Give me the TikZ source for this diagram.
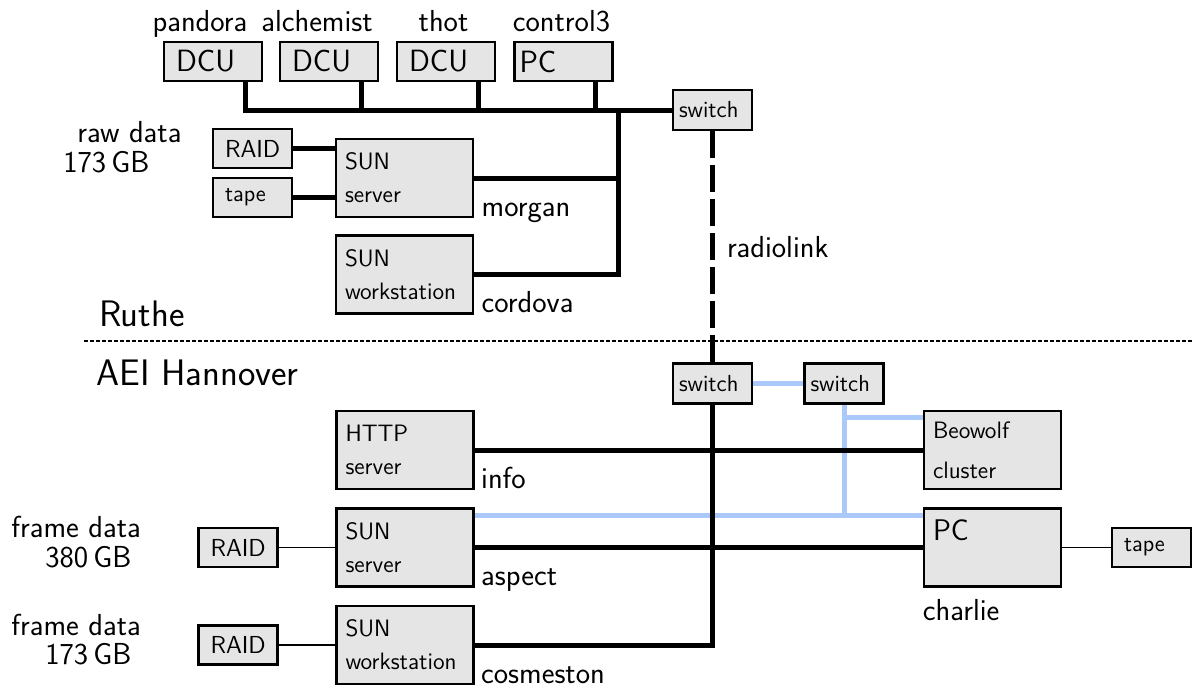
\documentclass[tikz,border=0pt]{standalone}
\usepackage{fontspec}
\renewcommand{\familydefault}{\sfdefault}

\definecolor{boxgray}{gray}{0.9}
\definecolor{lanblue}{RGB}{170,200,250}

\tikzset{
    box/.style = {draw, line width = 0.55mm, fill = boxgray, rectangle, align = left, inner ysep = 0pt},
    unit/.style = {box, text width = 14.8mm, inner xsep = 2.4mm, minimum height = 7.8mm, font = \fontsize{17.5}{21}\selectfont},
    host/.style = {box, text width = 23.8mm, inner xsep = 1.8mm, minimum height = 15.6mm, font = \fontsize{13.5}{16}\selectfont},
    store/.style = {box, text width = 11mm, inner xsep = 2.4mm, minimum height = 7.8mm, font = \fontsize{13}{15.6}\selectfont},
    hub/.style = {box, text width = 13.4mm, inner xsep = 1.2mm, minimum height = 8mm, font = \fontsize{13.2}{15.6}\selectfont},
    net/.style = {line width = 1mm},
    lan/.style = {line width = 1mm, lanblue},
    wire/.style = {line width = 0.3mm},
    radio/.style = {line width = 1mm, dash pattern = on 5.4mm off 1.4mm},
    sitesep/.style = {line width = 0.4mm, dash pattern = on 0.8mm off 0.4mm},
    lbl/.style = {inner sep = 0pt, font = \fontsize{17.3}{21}\selectfont},
    site/.style = {inner sep = 0pt, font = \fontsize{21}{25}\selectfont}
}

\begin{document}
\begin{tikzpicture}[x = 0.2mm, y = -0.2mm]
% Coordinates are in pixels of the original sketch, y grows downwards.
    \useasboundingbox (0, 0) rectangle (1194, 686);

% Ruthe: the data collecting units on the top bus.
    \node [unit] (pandora) at (213, 61.5) {DCU};
    \node [unit] (alchemist) at (329, 61.5) {DCU};
    \node [unit] (thot) at (446, 61.5) {DCU};
    \node [unit, inner xsep = 1mm, text width = 17.6mm] (control) at (563.5, 61.5) {PC};
    \node [lbl, anchor = base] (pandoratxt) at (200, 31) {pandora};
    \node [lbl, anchor = base] (alchemisttxt) at (317, 31) {alchemist};
    \node [lbl, anchor = base] (thottxt) at (443.5, 31) {thot};
    \node [lbl, anchor = base] (controltxt) at (561.5, 31) {control3};

    \node [hub] (swtop) at (712.5, 110) {switch};

    \node [store, font = \fontsize{14}{16}\selectfont] (raidup) at (252.5, 148.5) {RAID};
    \node [store] (tapeup) at (252.5, 197.5) {tape};
    \node [host] (morgan) at (404.5, 178) {SUN\\[2.8pt]server};
    \node [host] (cordova) at (404.5, 274.5) {SUN\\[2.8pt]workstation};
    \node [lbl, anchor = base west] (morgantxt) at ([xshift = 1.4mm, yshift = 0.4mm]morgan.south east) {morgan};
    \node [lbl, anchor = base west] (cordovatxt) at ([xshift = 1.4mm, yshift = 0.4mm]cordova.south east) {cordova};
    \node [lbl, anchor = base west] (rawtxt) at (77, 142) {raw data};
    \node [lbl, anchor = base west] (rawsize) at (63, 172) {173\,GB};

% The bus and its branches.
    \coordinate (bushub) at (618, 110);
    \foreach \dcu in {pandora, alchemist, thot, control}
        \draw [net] ([xshift = 6.4mm]\dcu.south) |- (swtop.west);
    \draw [net] (morgan.east) -| (bushub);
    \draw [net] (cordova.east) -| (bushub);
    \draw [net] (raidup.east) -- (raidup.east -| morgan.west);
    \draw [net] (tapeup.east) -- (tapeup.east -| morgan.west);

% The border between the two sites.
    \coordinate (sepleft) at (84, 341);
    \coordinate (sepright) at (1194, 341);
    \draw [sitesep] (sepleft) -- (sepright);
    \node [site, anchor = base west] (ruthe) at (99, 326) {Ruthe};
    \node [site, anchor = base west] (aei) at (96, 385) {AEI Hannover};

% AEI Hannover.
    \node [hub] (swlow) at (712.5, 383.5) {switch};
    \node [hub] (swbeo) at (844, 383.5) {switch};

    \node [host] (info) at (405, 450) {HTTP\\[2.8pt]server};
    \node [host] (aspect) at (405, 547.5) {SUN\\[2.8pt]server};
    \node [host] (cosmeston) at (405, 645) {SUN\\[2.8pt]workstation};
    \node [host] (beowolf) at (992.5, 450) {Beowolf\\[6.8pt]cluster};
    \node [host, font = \fontsize{17}{20}\selectfont, text height = 4.1mm, text depth = 6.9mm] (charlie) at (992.5, 547.5) {PC};
    \node [lbl, anchor = base west] (infotxt) at ([xshift = 1.2mm, yshift = 0.4mm]info.south east) {info};
    \node [lbl, anchor = base west] (aspecttxt) at ([xshift = 1.2mm, yshift = 0.4mm]aspect.south east) {aspect};
    \node [lbl, anchor = base west] (cosmestontxt) at ([xshift = 1.2mm, yshift = 0.4mm]cosmeston.south east) {cosmeston};
    \node [lbl, anchor = base west] (charlietxt) at ([yshift = -6.6mm]charlie.south west) {charlie};

    \node [store, font = \fontsize{14}{16}\selectfont] (raidasp) at (238, 547.5) {RAID};
    \node [store, font = \fontsize{14}{16}\selectfont] (raidcos) at (238, 645) {RAID};
    \node [store] (tapepc) at (1151.5, 547.5) {tape};
    \node [lbl, anchor = base west] (frametxta) at (11, 537) {frame data};
    \node [lbl, anchor = base west] (framesizea) at (45, 567) {380\,GB};
    \node [lbl, anchor = base west] (frametxtb) at (11, 635) {frame data};
    \node [lbl, anchor = base west] (framesizeb) at (45, 664) {173\,GB};

% The blue lines go first, so the black ones lie on top.
    \draw [lan] (swlow.east) -- (swbeo.west);
    \draw [lan] (swbeo.south) |- ([yshift = -1.6mm]beowolf.north west);
    \draw [lan] (swbeo.south) |- ([yshift = -1.6mm]charlie.north west);
    \draw [lan] ([yshift = -1.6mm]aspect.north east) -- ([yshift = -1.6mm]charlie.north west);

    \draw [net] (info.east) -- (beowolf.west);
    \draw [net] (aspect.east) -- (charlie.west);
    \draw [net] (swlow.south) |- (cosmeston.east);
    \draw [wire] (raidasp.east) -- (aspect.west);
    \draw [wire] (raidcos.east) -- (cosmeston.west);
    \draw [wire] (charlie.east) -- (tapepc.west);

% The radio link between the two switches.
    \draw [radio] (swtop.south) -- node [lbl, anchor = west, xshift = 2.4mm] (radiotxt) {radiolink} (swlow.north);
\end{tikzpicture}
\end{document}
